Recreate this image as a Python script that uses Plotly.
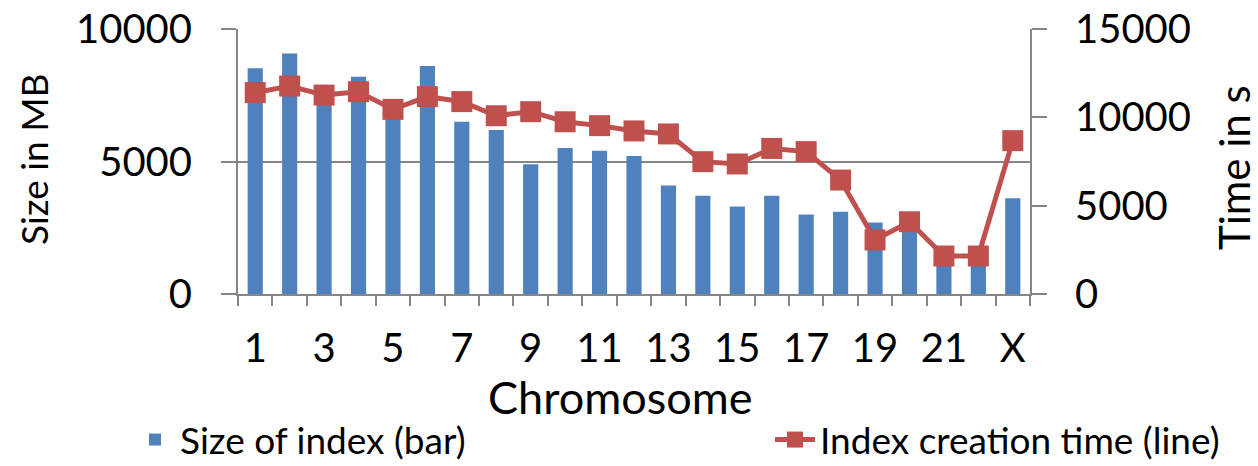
import plotly.graph_objects as go

categories = [str(i) for i in range(1, 23)] + ["X"]
size_mb = [8520, 9080, 7400, 8200, 7000, 8600, 6500, 6190, 4900, 5510, 5410, 5210,
           4090, 3710, 3300, 3710, 3000, 3100, 2700, 2500, 1500, 1300, 3610]
time_s = [11400, 11770, 11260, 11450, 10450, 11170, 10890, 10090, 10320, 9750, 9530, 9230,
          9060, 7490, 7360, 8240, 8060, 6450, 3060, 4090, 2150, 2150, 8680]
tick_labels = ["1", "3", "5", "7", "9", "11", "13", "15", "17", "19", "21", "X"]

xpos = list(range(1, len(categories) + 1))
tickvals = [xpos[categories.index(t)] for t in tick_labels]

FONT = "Lato"
GREY = "#868686"
W, H = 1258, 466
L, R, T, B = 238, 228, 29, 172
PW, PH = W - L - R, H - T - B


def px_x(px):
    return (px - L) / PW


def px_y(py):
    return (H - B - py) / PH


fig = go.Figure()
fig.add_trace(go.Bar(
    x=xpos, y=size_mb, name="Size of index (bar)",
    marker=dict(color="#4F81BD", line=dict(width=0)),
    yaxis="y", legend="legend",
))
fig.add_trace(go.Scatter(
    x=xpos, y=time_s, name="Index creation time (line)",
    mode="lines+markers",
    line=dict(color="#C0504D", width=5),
    marker=dict(symbol="square", size=21, color="#C0504D"),
    yaxis="y2", legend="legend2",
))

legend_common = dict(
    orientation="h", xref="container", yref="container",
    y=1 - 440 / H, yanchor="middle", xanchor="left",
    font=dict(family=FONT, size=37), itemwidth=40,
    bgcolor="rgba(0,0,0,0)",
)

fig.update_layout(
    width=W, height=H,
    margin=dict(l=L, r=R, t=T, b=B),
    paper_bgcolor="white", plot_bgcolor="white",
    font=dict(family=FONT, size=40, color="#000000"),
    bargap=0.56,
    showlegend=True,
    legend=dict(legend_common, x=130 / W),
    legend2=dict(legend_common, x=770 / W),
    xaxis=dict(
        range=[0.5, len(categories) + 0.5], automargin=False,
        tickmode="array", tickvals=tickvals, ticktext=tick_labels,
        ticks="", showline=True, linecolor=GREY, linewidth=2,
        showgrid=False, zeroline=False,
        ticklabelstandoff=18,
        minor=dict(tickmode="linear", tick0=0.5, dtick=1, ticks="outside",
                   ticklen=10, tickcolor=GREY, tickwidth=2, showgrid=False),
    ),
    yaxis=dict(
        range=[0, 10000], tickmode="linear", tick0=0, dtick=5000, tickformat="d",
        automargin=False,
        ticks="outside", ticklen=15, tickcolor=GREY, tickwidth=2,
        showline=True, linecolor=GREY, linewidth=2,
        showgrid=True, gridcolor=GREY, gridwidth=2, zeroline=False,
        ticklabelstandoff=21,
    ),
    yaxis2=dict(
        range=[0, 15000], tickmode="linear", tick0=0, dtick=5000, tickformat="d",
        automargin=False,
        overlaying="y", side="right",
        ticks="outside", ticklen=15, tickcolor=GREY, tickwidth=2,
        showline=True, linecolor=GREY, linewidth=2,
        showgrid=False, zeroline=False,
        ticklabelstandoff=20,
    ),
    annotations=[
        dict(text="Chromosome", xref="paper", yref="paper",
             x=px_x(620), y=px_y(397), xanchor="center", yanchor="middle",
             showarrow=False, font=dict(size=45)),
        dict(text="Size in MB", xref="paper", yref="paper", textangle=-90,
             x=px_x(33), y=px_y(160), xanchor="center", yanchor="middle",
             showarrow=False, font=dict(size=37)),
        dict(text="Time in s", xref="paper", yref="paper", textangle=-90,
             x=px_x(1234), y=px_y(168), xanchor="center", yanchor="middle",
             showarrow=False, font=dict(size=42)),
    ],
)

fig.write_html("out.html")
